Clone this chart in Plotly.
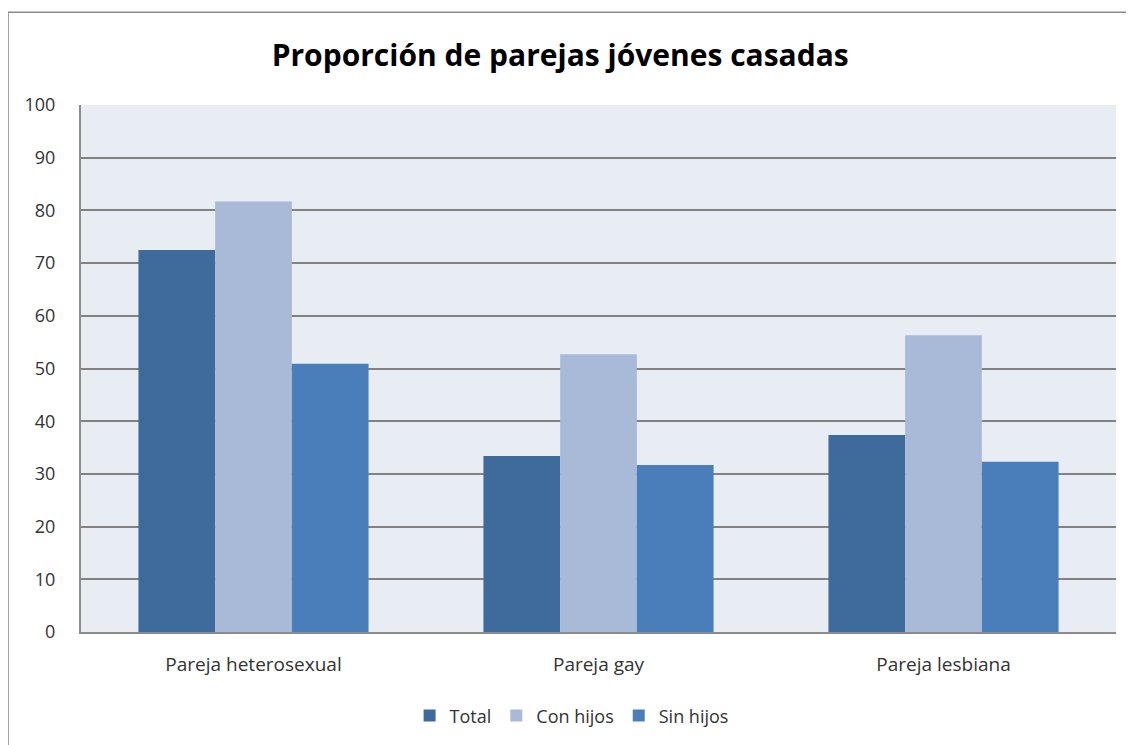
import plotly.graph_objects as go

categories = ['Pareja heterosexual', 'Pareja gay', 'Pareja lesbiana']
total = [72.5, 33.4, 37.4]
con_hijos = [81.7, 52.7, 56.3]
sin_hijos = [50.9, 31.7, 32.3]

colors = {'Total': '#3F6A9C', 'Con hijos': '#A9B9D8', 'Sin hijos': '#4A7EBB'}
font = 'Open Sans'

fig = go.Figure()
fig.add_trace(go.Bar(x=categories, y=total, name='Total', marker_color=colors['Total'], marker_line_width=0))
fig.add_trace(go.Bar(x=categories, y=con_hijos, name='Con hijos', marker_color=colors['Con hijos'], marker_line_width=0))
fig.add_trace(go.Bar(x=categories, y=sin_hijos, name='Sin hijos', marker_color=colors['Sin hijos'], marker_line_width=0))

fig.update_layout(barmode='group', bargap=0.333, bargroupgap=0)

# page body adds an 8px offset, so margins are shifted to line up with the reference
fig.update_layout(
    font_family=font,
    title=dict(text='<b>Proporción de parejas jóvenes casadas</b>',
               xanchor='center', x=0.463, xref='paper', y=0.936, yanchor='middle',
               font=dict(color='black', size=30, family=font)),
    xaxis=dict(tickfont=dict(color='#333333', size=19), showline=True, linecolor='#8c8c8c',
               linewidth=2, ticks='', showgrid=False, ticklabelstandoff=14),
    yaxis=dict(range=[0, 100], dtick=10, tickfont=dict(color='#333333', size=18),
               showgrid=True, gridcolor='#828282', gridwidth=1.5, zeroline=False,
               showline=True, linecolor='#8c8c8c', linewidth=2, ticks='',
               ticklabelstandoff=20),
    legend=dict(orientation='h', yanchor='middle', y=-0.157, xanchor='center', x=0.474,
                font=dict(size=18, color='#333333'), itemwidth=30, traceorder='normal'),
    plot_bgcolor='#E8EDF4', paper_bgcolor='white',
    margin=dict(l=73, r=18, t=97, b=112),
    width=1126, height=737,
    shapes=[dict(type='rect', xref='paper', yref='paper', x0=-0.0705, x1=1.03, y0=-0.25, y1=1.176,
                 line=dict(color='#8a8a8a', width=1.5), layer='below')],
)

fig.write_html('out.html')
